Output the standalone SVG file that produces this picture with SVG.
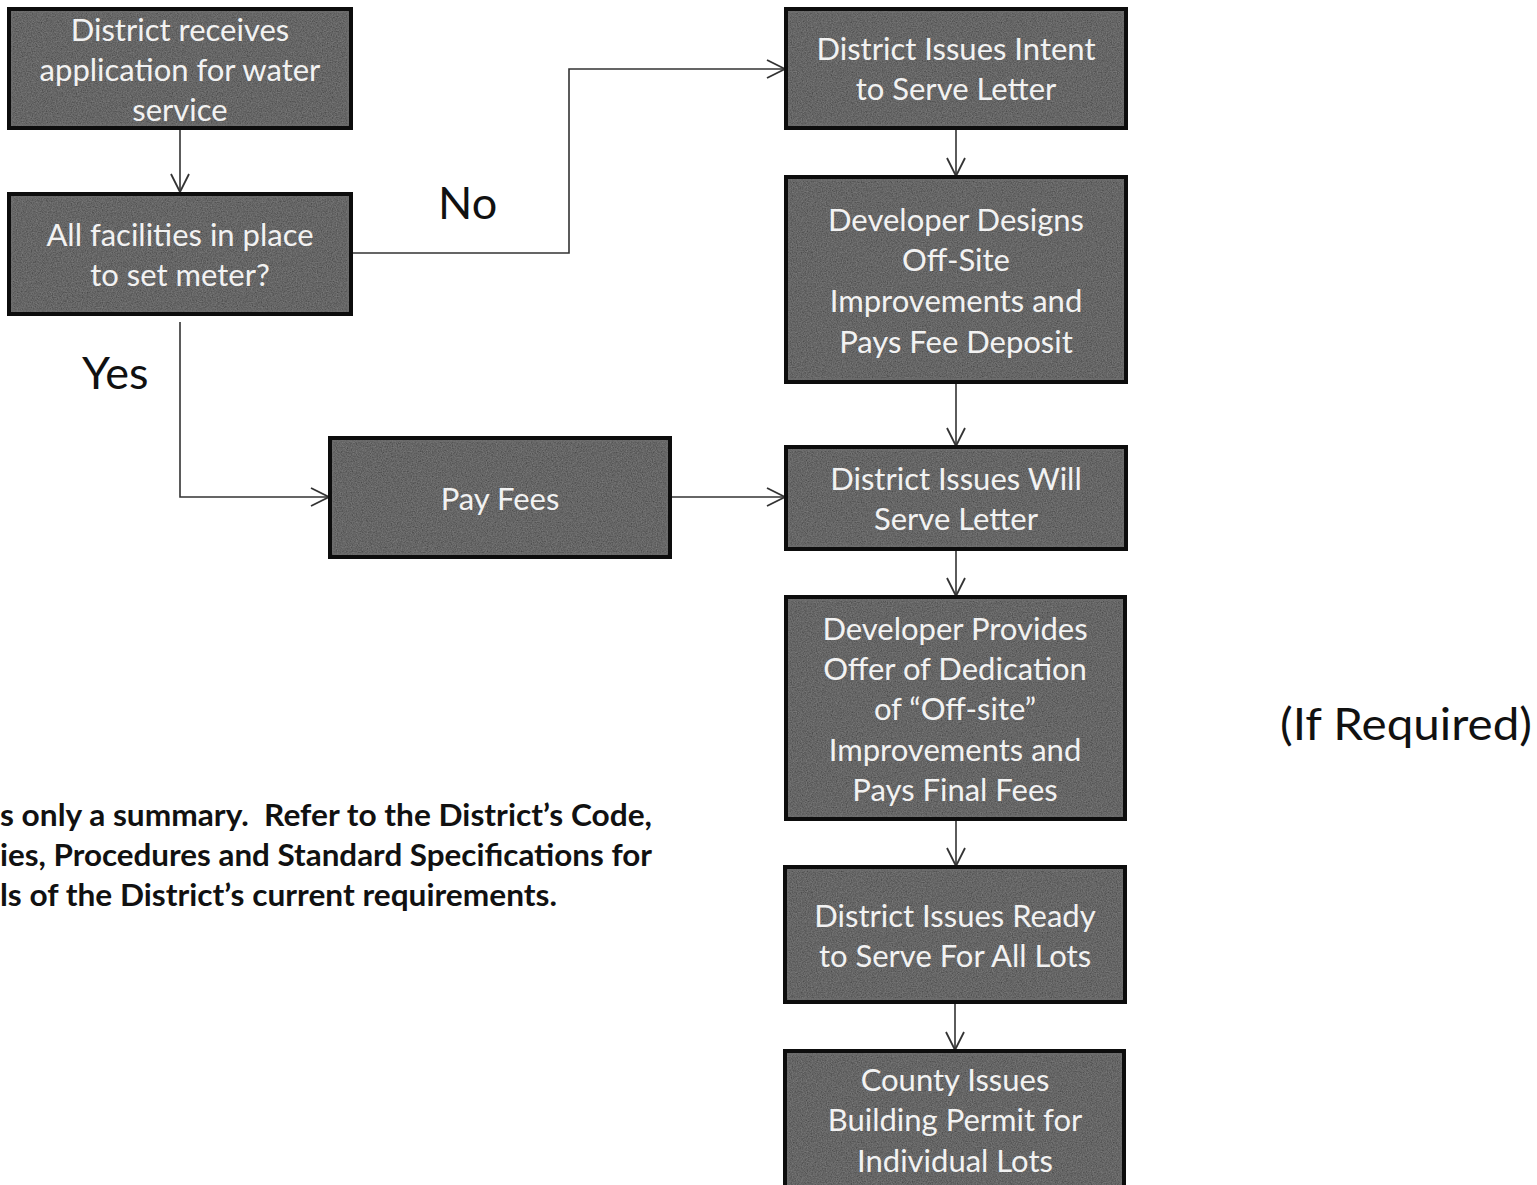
<svg xmlns="http://www.w3.org/2000/svg" width="1537" height="1185" viewBox="0 0 1537 1185">
<style>
.box{fill:#3f3f3f;stroke:none}
.edge{fill:none;stroke:#0d0d0d;stroke-width:4}
.inner{fill:none;stroke:#6e6e6e;stroke-width:1}
.bt{font-family:Lato,"Open Sans",sans-serif;font-size:31px;fill:#f2f2f2;text-anchor:middle}
.lab{font-family:Lato,"Open Sans",sans-serif;font-size:45px;fill:#111}
.note{font-family:Lato,"Open Sans",sans-serif;font-size:30px;font-weight:bold;fill:#111}
.con{fill:none;stroke:#333;stroke-width:1.6}
</style>
<defs>
<marker id="arr" viewBox="0 0 20 20" refX="19" refY="10" markerWidth="20" markerHeight="20" markerUnits="userSpaceOnUse" orient="auto">
<path d="M1,1 L19,10 L1,19" fill="none" stroke="#333" stroke-width="1.8"/>
</marker>
<filter id="grain" x="0" y="0" width="100%" height="100%">
<feTurbulence type="fractalNoise" baseFrequency="0.8" numOctaves="3" seed="3" result="n"/>
<feColorMatrix in="n" type="matrix" values="0 0 0 0 0.6  0 0 0 0 0.6  0 0 0 0 0.6  0 0 0 0.3 0" result="g"/>
<feComposite in="g" in2="SourceGraphic" operator="atop"/>
</filter>
</defs>
<rect width="1537" height="1185" fill="#ffffff"/>

<g id="connectors">
<path class="con" d="M180,128 V192" marker-end="url(#arr)"/>
<path class="con" d="M351,253 H569 V69 H785" marker-end="url(#arr)"/>
<path class="con" d="M180,322 V497 H329" marker-end="url(#arr)"/>
<path class="con" d="M670,497 H785" marker-end="url(#arr)"/>
<path class="con" d="M956,128 V176" marker-end="url(#arr)"/>
<path class="con" d="M956,382 V446" marker-end="url(#arr)"/>
<path class="con" d="M956,549 V596" marker-end="url(#arr)"/>
<path class="con" d="M956,819 V866" marker-end="url(#arr)"/>
<path class="con" d="M955,1002 V1050" marker-end="url(#arr)"/>
</g>

<g id="n1"><rect class="box" x="9" y="9" width="342" height="119" filter="url(#grain)"/><rect class="edge" x="9" y="9" width="342" height="119"/><rect class="inner" x="12" y="12" width="336" height="113"/>
<text class="bt" x="180" y="41">District receives</text><text class="bt" x="180" y="81">application for water</text><text class="bt" x="180" y="121">service</text></g>

<g id="n2"><rect class="box" x="9" y="194" width="342" height="120" filter="url(#grain)"/><rect class="edge" x="9" y="194" width="342" height="120"/><rect class="inner" x="12" y="197" width="336" height="114"/>
<text class="bt" x="180" y="246">All facilities in place</text><text class="bt" x="180" y="286">to set meter?</text></g>

<g id="n3"><rect class="box" x="330" y="438" width="340" height="119" filter="url(#grain)"/><rect class="edge" x="330" y="438" width="340" height="119"/><rect class="inner" x="333" y="441" width="334" height="113"/>
<text class="bt" x="500" y="510">Pay Fees</text></g>

<g id="n4"><rect class="box" x="786" y="9" width="340" height="119" filter="url(#grain)"/><rect class="edge" x="786" y="9" width="340" height="119"/><rect class="inner" x="789" y="12" width="334" height="113"/>
<text class="bt" x="956" y="60">District Issues Intent</text><text class="bt" x="956" y="100">to Serve Letter</text></g>

<g id="n5"><rect class="box" x="786" y="177" width="340" height="205" filter="url(#grain)"/><rect class="edge" x="786" y="177" width="340" height="205"/><rect class="inner" x="789" y="180" width="334" height="199"/>
<text class="bt" x="956" y="231">Developer Designs</text><text class="bt" x="956" y="271">Off-Site</text><text class="bt" x="956" y="312">Improvements and</text><text class="bt" x="956" y="353">Pays Fee Deposit</text></g>

<g id="n6"><rect class="box" x="786" y="447" width="340" height="102" filter="url(#grain)"/><rect class="edge" x="786" y="447" width="340" height="102"/><rect class="inner" x="789" y="450" width="334" height="96"/>
<text class="bt" x="956" y="490">District Issues Will</text><text class="bt" x="956" y="530">Serve Letter</text></g>

<g id="n7"><rect class="box" x="786" y="597" width="339" height="222" filter="url(#grain)"/><rect class="edge" x="786" y="597" width="339" height="222"/><rect class="inner" x="789" y="600" width="333" height="216"/>
<text class="bt" x="955" y="640">Developer Provides</text><text class="bt" x="955" y="680">Offer of Dedication</text><text class="bt" x="955" y="720">of “Off-site”</text><text class="bt" x="955" y="761">Improvements and</text><text class="bt" x="955" y="801">Pays Final Fees</text></g>

<g id="n8"><rect class="box" x="785" y="867" width="340" height="135" filter="url(#grain)"/><rect class="edge" x="785" y="867" width="340" height="135"/><rect class="inner" x="788" y="870" width="334" height="129"/>
<text class="bt" x="955" y="927">District Issues Ready</text><text class="bt" x="955" y="967">to Serve For All Lots</text></g>

<g id="n9"><rect class="box" x="785" y="1051" width="339" height="140" filter="url(#grain)"/><rect class="edge" x="785" y="1051" width="339" height="140"/><rect class="inner" x="788" y="1054" width="333" height="134"/>
<text class="bt" x="955" y="1091">County Issues</text><text class="bt" x="955" y="1131">Building Permit for</text><text class="bt" x="955" y="1172">Individual Lots</text></g>

<text class="lab" x="438" y="219">No</text>
<text class="lab" x="82" y="389">Yes</text>
<text class="lab" x="1280" y="740" textLength="252" lengthAdjust="spacingAndGlyphs">(If Required)</text>

<g id="note">
<text class="note" x="0" y="826" textLength="652" lengthAdjust="spacingAndGlyphs" xml:space="preserve">s only a summary.  Refer to the District’s Code,</text>
<text class="note" x="0" y="866" textLength="652" lengthAdjust="spacingAndGlyphs">ies, Procedures and Standard Specifications for</text>
<text class="note" x="0" y="906" textLength="557" lengthAdjust="spacingAndGlyphs">ls of the District’s current requirements.</text>
</g>
</svg>
